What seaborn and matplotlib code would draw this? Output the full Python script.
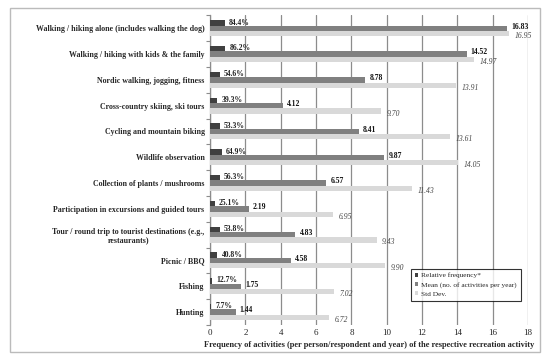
import matplotlib
matplotlib.use("Agg")
import matplotlib.pyplot as plt
import matplotlib.patches as mpatches
import seaborn as sns
import pandas as pd
import numpy as np

categories = [
    "Walking / hiking alone (includes walking the dog)",
    "Walking / hiking with kids & the family",
    "Nordic walking, jogging, fitness",
    "Cross-country skiing, ski tours",
    "Cycling and mountain biking",
    "Wildlife observation",
    "Collection of plants / mushrooms",
    "Participation in excursions and guided tours",
    "Tour / round trip to tourist destinations (e.g.,\nrestaurants)",
    "Picnic / BBQ",
    "Fishing",
    "Hunting",
]
rel_freq_pct = [84.4, 86.2, 54.6, 39.3, 53.3, 64.9, 56.3, 25.1, 53.8, 40.8, 12.7, 7.7]
mean_vals = [16.83, 14.52, 8.78, 4.12, 8.41, 9.87, 6.57, 2.19, 4.83, 4.58, 1.75, 1.44]
std_vals = [16.95, 14.97, 13.91, 9.70, 13.61, 14.05, 11.43, 6.95, 9.43, 9.90, 7.02, 6.72]
series = ["Relative frequency*", "Mean (no. of activities per year)", "Std Dev."]
colors = ["#404040", "#808080", "#d9d9d9"]
xticks = list(range(0, 19, 2))

rows = []
for i, c in enumerate(categories):
    rows.append((c, series[0], rel_freq_pct[i] / 100.0))
    rows.append((c, series[1], mean_vals[i]))
    rows.append((c, series[2], std_vals[i]))
df = pd.DataFrame(rows, columns=["activity", "series", "value"])

sns.set_theme(style="white")
plt.rcParams["font.family"] = ["Liberation Serif", "DejaVu Serif"]

fig = plt.figure(figsize=(5.5, 3.59), dpi=100)
ax = fig.add_axes([0.382, 0.095, 0.578, 0.862])

sns.barplot(data=df, y="activity", x="value", hue="series", orient="h",
            palette=colors, width=0.62, ax=ax, saturation=1, edgecolor="none",
            legend=True, zorder=3)

ax.set_xlim(0, 18)
ax.set_ylim(len(categories) - 0.5, -0.5)
ax.set_xticks(xticks)
ax.set_xticklabels([str(t) for t in xticks], fontsize=6.5)
ax.xaxis.grid(True, color="#8c8c8c", linewidth=0.9, zorder=0)
ax.set_axisbelow(True)
for s in ["top", "bottom", "right"]:
    ax.spines[s].set_visible(False)
ax.spines["left"].set_color("#8c8c8c")
ax.spines["left"].set_linewidth(0.9)
ax.tick_params(axis="x", length=0, pad=3)

ax.set_yticks(range(len(categories)))
ax.set_yticklabels(categories, fontsize=5.7, fontweight="bold", multialignment="center")
ax.tick_params(axis="y", length=0, pad=4)
ax.set_yticks(np.arange(-0.5, len(categories), 1), minor=True)
ax.tick_params(axis="y", which="minor", length=3, color="#8c8c8c", width=0.8, left=True)

ax.set_xlabel("Frequency of activities (per person/respondent and year) of the respective recreation activity",
              fontsize=6, fontweight="bold", labelpad=3)
ax.set_ylabel("")

conts = ax.containers

def label_bars(container, texts, dx, dy, **kw):
    for p, t in zip(container.patches, texts):
        x = p.get_x() + p.get_width()
        y = p.get_y() + p.get_height() / 2
        ax.annotate(t, (x, y), xytext=(dx, dy), textcoords="offset points",
                    ha="left", va="center", **kw)

label_bars(conts[0], [f"{v:.1f}%" for v in rel_freq_pct], 3, 0.3,
           fontsize=5.5, fontweight="bold", color="#222222")
label_bars(conts[1], [f"{v:.2f}" for v in mean_vals], 3, 1.2,
           fontsize=5.5, fontweight="bold", color="#111111")
label_bars(conts[2], [f"{v:.2f}" for v in std_vals], 4, -1.8,
           fontsize=5.5, fontstyle="italic", color="#444444")

leg = ax.legend(loc="lower right", bbox_to_anchor=(0.978, 0.078), borderaxespad=0,
                fontsize=5.3, frameon=True, fancybox=False, edgecolor="black",
                handlelength=0.5, handleheight=0.5, handletextpad=0.4,
                borderpad=0.55, labelspacing=0.45)
leg.get_frame().set_linewidth(0.8)

fig.patches.append(mpatches.Rectangle((10 / 550, 1 - 352 / 359), 530 / 550, 344 / 359,
                                      transform=fig.transFigure, fill=False,
                                      edgecolor="#bbbbbb", linewidth=1.0))

fig.savefig("out.png", dpi=100)
